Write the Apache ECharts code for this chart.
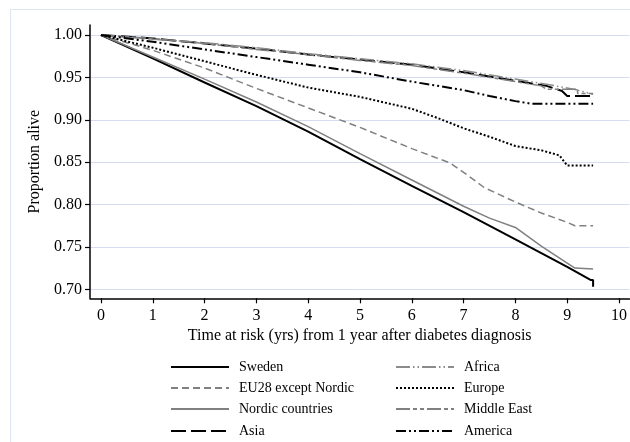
<!DOCTYPE html>
<html>
<head>
<meta charset="utf-8">
<script src="https://cdn.jsdelivr.net/npm/echarts@6/dist/echarts.min.js"></script>
<style>html,body{margin:0;padding:0;background:#fff}#c{width:630px;height:442px}</style>
</head>
<body>
<div id="c"></div>
<script>
// Tick values
const xTicks = [0,1,2,3,4,5,6,7,8,9,10];
const yTicks = [0.70,0.75,0.80,0.85,0.90,0.95,1.00];

// Series: [time (yrs), proportion alive]
const sweden = [[0,1.0],[1,0.9725],[2,0.944],[3,0.916],[4,0.886],[5,0.8535],[6,0.822],[7,0.791],[8,0.759],[9,0.7265],[9.45,0.711],[9.5,0.711],[9.5,0.703]];
const eu28 = [[0,1.0],[1,0.982],[2,0.961],[3,0.937],[4,0.914],[5,0.891],[6,0.866],[6.74,0.849],[7,0.838],[7.4,0.820],[8,0.803],[8.5,0.790],[9,0.779],[9.15,0.775],[9.5,0.775]];
const nordic = [[0,1.0],[1,0.974],[2,0.948],[3,0.921],[4,0.892],[5,0.860],[6,0.829],[7,0.798],[7.5,0.784],[8,0.773],[8.5,0.751],[9,0.731],[9.15,0.725],[9.5,0.724]];
const asia = [[0,1.0],[1,0.996],[2,0.990],[3,0.984],[4,0.977],[5,0.971],[6,0.965],[7,0.956],[8,0.946],[8.6,0.940],[8.9,0.934],[9.0,0.928],[9.5,0.928]];
const africa = [[0,1.0],[1,0.995],[2,0.991],[3,0.985],[4,0.978],[5,0.972],[6,0.966],[7,0.958],[8,0.948],[8.6,0.942],[9.2,0.935],[9.5,0.930]];
const europe = [[0,1.0],[1,0.985],[2,0.969],[3,0.953],[4,0.938],[5,0.927],[6,0.913],[6.5,0.902],[7,0.890],[7.5,0.880],[8,0.869],[8.5,0.864],[8.85,0.858],[8.95,0.850],[9.0,0.846],[9.5,0.846]];
const middleEast = [[0,1.0],[1,0.996],[2,0.990],[3,0.983],[4,0.977],[5,0.970],[6,0.964],[7,0.955],[8,0.945],[8.5,0.940],[8.6,0.936],[9.2,0.936],[9.2,0.931],[9.5,0.931]];
const america = [[0,1.0],[1,0.992],[2,0.983],[3,0.974],[4,0.965],[5,0.956],[6,0.945],[7,0.935],[7.5,0.928],[8,0.922],[8.3,0.919],[9.5,0.919]];

const names = ['Sweden','EU28 except Nordic','Nordic countries','Asia','Africa','Europe','Middle East','America'];
const dataSets = [sweden, eu28, nordic, asia, africa, europe, middleEast, america];
const styles = [
  {color:'#000000', width:2, type:'solid'},
  {color:'#808080', width:1.5, type:[7,4]},
  {color:'#808080', width:1.5, type:'solid'},
  {color:'#000000', width:2, type:[15,5]},
  {color:'#8c8c8c', width:1.5, type:[14,3,1.5,3,1.5,3]},
  {color:'#000000', width:2, type:[2,2]},
  {color:'#808080', width:1.5, type:[14,3,4,3,4,3]},
  {color:'#000000', width:2, type:[10,3,2,3,2,3]}
];

const series = names.map((n,i)=>({
  name:n, type:'line', data:dataSets[i], showSymbol:false, symbol:'none', animation:false,
  lineStyle:{color:styles[i].color, width:styles[i].width, type:styles[i].type},
  itemStyle:{color:styles[i].color}
}));

const font = 'Liberation Serif';
const legendCols = [170, 395];
const legendRows = [360, 381, 402, 424];
const legends = names.map((n,i)=>({
  data:[n], left:legendCols[Math.floor(i/4)], top:legendRows[i%4], padding:0,
  itemWidth:58, itemHeight:14, itemStyle:{opacity:0},
  textStyle:{fontFamily:font, fontSize:14, color:'#000', padding:[0,0,0,5]},
  selectedMode:false
}));

const chart = echarts.init(document.getElementById('c'), null, {renderer:'canvas'});
chart.setOption({
  animation:false,
  backgroundColor:'#fff',
  graphic:[{type:'rect', shape:{x:10.5,y:9.5,width:640,height:460}, style:{fill:'none', stroke:'#dde5f0', lineWidth:1}, silent:true, z:-10}],
  grid:{left:90, right:0.6, top:25, bottom:143.7},
  xAxis:{type:'value', min:-0.212, max:10.2,
    name:'Time at risk (yrs) from 1 year after diabetes diagnosis', nameLocation:'middle', nameGap:27,
    nameTextStyle:{fontFamily:font, fontSize:16, color:'#000'},
    axisLine:{onZero:false, lineStyle:{color:'#000', width:1.5}},
    axisTick:{customValues:xTicks, length:5, lineStyle:{color:'#000', width:1.2}},
    axisLabel:{customValues:xTicks, fontFamily:font, fontSize:16, color:'#000', margin:9, formatter:v=>String(v)},
    splitLine:{show:false}
  },
  yAxis:{type:'value', min:0.6894, max:1.0118,
    name:'Proportion alive', nameLocation:'middle', nameGap:45,
    nameTextStyle:{fontFamily:font, fontSize:16, color:'#000'},
    axisLine:{show:true, onZero:false, lineStyle:{color:'#000', width:1.5}},
    axisTick:{show:true, customValues:yTicks, length:5, lineStyle:{color:'#000', width:1.2}},
    axisLabel:{customValues:yTicks, fontFamily:font, fontSize:16, color:'#000', margin:8, formatter:v=>v.toFixed(2)},
    splitLine:{show:true, lineStyle:{color:'#d3ddef', width:1}}
  },
  legend:legends,
  series:series
});
</script>
</body>
</html>
